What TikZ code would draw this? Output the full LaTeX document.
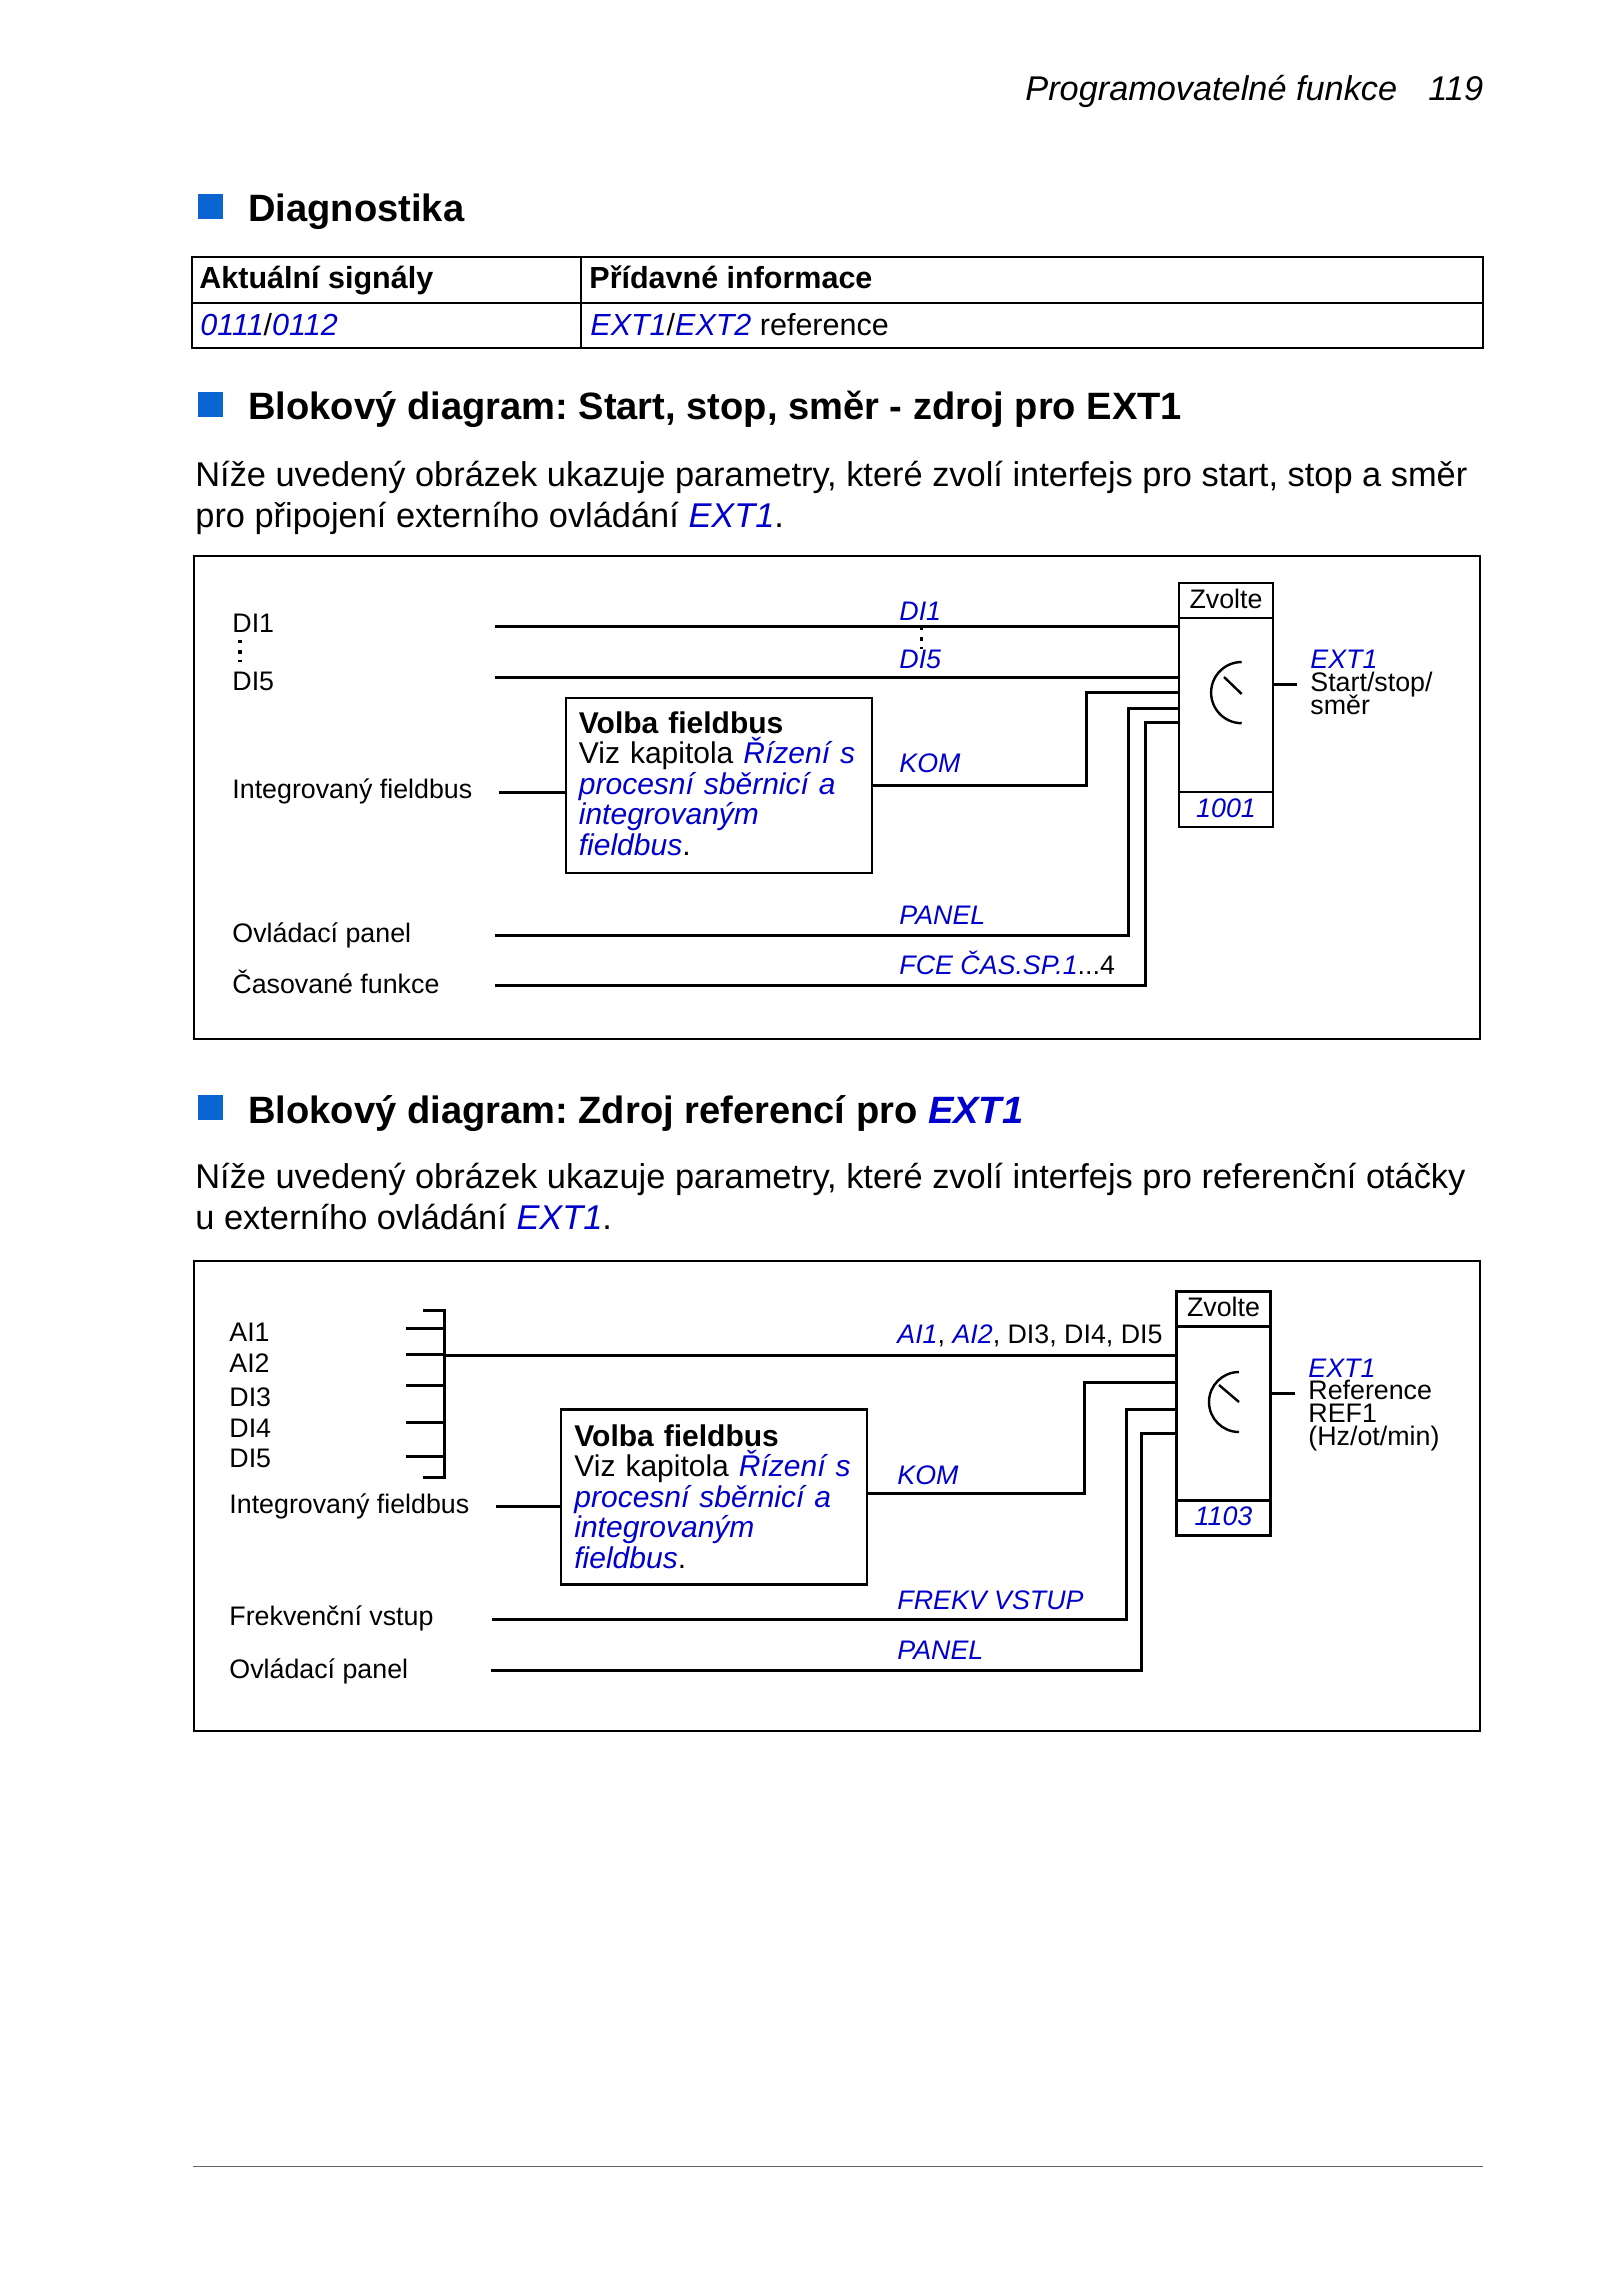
\documentclass[tikz,border=0pt]{standalone}
\usepackage{fontspec}
\setmainfont{Liberation Sans}
\usetikzlibrary{positioning}
\definecolor{linkblue}{HTML}{0000CC}
\definecolor{markblue}{HTML}{0A64D2}
\newcommand{\lnk}[1]{\textcolor{linkblue}{\textit{#1}}}
\frenchspacing
\tikzset{
	point/.style     = {coordinate},
	pagetext/.style  = {anchor=base west, inner sep=0pt, font=\fontsize{17.19}{20}\selectfont},
	headtext/.style  = {anchor=base west, inner sep=0pt, font=\fontsize{19.05}{22}\selectfont\bfseries},
	celltext/.style  = {anchor=base west, inner sep=0pt, font=\fontsize{15.25}{18}\selectfont},
	sigtext/.style   = {anchor=base west, inner sep=0pt, font=\fontsize{13.4}{16}\selectfont},
	linktext/.style  = {sigtext, text=linkblue, font=\fontsize{13.4}{16}\selectfont\itshape},
	marker/.style    = {rectangle, fill=markblue, inner sep=0pt, minimum width=12.5pt, minimum height=12.5pt},
	selecttop/.style = {draw, rectangle, line width=1.4pt, inner sep=0pt, outer sep=0pt, minimum width=47pt, minimum height=17.5pt, text height=9.5pt, text depth=2pt, font=\fontsize{13.4}{16}\selectfont},
	selectmid/.style = {draw, rectangle, line width=1.4pt, inner sep=0pt, outer sep=0pt, minimum width=47pt, minimum height=87pt},
	fieldbox/.style  = {draw, rectangle, line width=1.4pt, inner sep=0pt, outer sep=0pt, minimum width=153pt, minimum height=87.5pt},
	fieldtext/.style = {anchor=north west, inner sep=0pt, text width=150pt, align=left, font=\fontsize{15}{15.25}\selectfont},
	panel/.style     = {draw, line width=1.1pt},
	rule/.style      = {draw, line width=1.3pt},
	wire/.style      = {draw, line width=1.5pt},
	dial/.style      = {draw, line width=1.2pt},
	dots/.style      = {draw, line width=1.7pt, dash pattern=on 1.7pt off 3.4pt}
}
\begin{document}
\begin{tikzpicture}[x=0.5pt, y=-0.5pt]
	\path [use as bounding box, fill=white] (0,0) rectangle (1600,2275);

	\node (pagehead) [pagetext, font=\fontsize{17.15}{20}\selectfont\itshape] at (1025,100) {Programovatelné funkce};
	\node (pagenum)  [pagetext, font=\fontsize{17.15}{20}\selectfont\itshape] at (1428,100) {119};

	\node (markDiag) [marker] at (210.5,206.5) {};
	\node (headDiag) [headtext] at (248,221) {Diagnostika};

	\draw [rule] (192,257) rectangle (1483,348);
	\draw [rule] (192,303) -- (1483,303);
	\draw [rule] (581,257) -- (581,348);
	\node (cellAA) [celltext, font=\fontsize{15.25}{18}\selectfont\bfseries] at (199,288) {Aktuální signály};
	\node (cellAB) [celltext, font=\fontsize{15.25}{18}\selectfont\bfseries] at (589,288) {Přídavné informace};
	\node (cellBA) [celltext] at (200,335) {\lnk{0111}/\lnk{0112}};
	\node (cellBB) [celltext] at (590,335) {\lnk{EXT1}/\lnk{EXT2} reference};

	\node (markA) [marker] at (210.5,404.5) {};
	\node (headA) [headtext] at (248,419) {Blokový diagram: Start, stop, směr - zdroj pro EXT1};
	\node (paraAa) [pagetext] at (195,486) {Níže uvedený obrázek ukazuje parametry, které zvolí interfejs pro start, stop a směr};
	\node (paraAb) [pagetext] at (195,527) {pro připojení externího ovládání \lnk{EXT1}.};

	\draw [panel] (194,556) rectangle (1480,1039);

	\node (selAtop) [selecttop] at (1226,600.5) {Zvolte};
	\node (selAmid) [selectmid, below=0pt of selAtop] {};
	\node (selAbot) [selecttop, below=0pt of selAmid] {\lnk{1001}};
	\node (fbA) [fieldbox] at (719,785.5) {};
	\node (fbAtext) [fieldtext] at (578.5,711) {\textbf{Volba fieldbus}\\Viz kapitola \lnk{Řízení s}\\\lnk{procesní sběrnicí a}\\\lnk{integrovaným}\\\lnk{fieldbus}.};

	\node (sigAa) [sigtext] at (232,632) {DI1};
	\node (sigAb) [sigtext] at (232,690) {DI5};
	\node (sigAc) [sigtext] at (232,798) {Integrovaný fieldbus};
	\node (sigAd) [sigtext] at (232,942) {Ovládací panel};
	\node (sigAe) [sigtext] at (232,993) {Časované funkce};
	\node (lnkAa) [linktext] at (899,620) {DI1};
	\node (lnkAb) [linktext] at (899,668) {DI5};
	\node (lnkAc) [linktext] at (899,772) {KOM};
	\node (lnkAd) [linktext] at (899,924) {PANEL};
	\node (lnkAe) [sigtext] at (899,974) {\lnk{FCE ČAS.SP.1}...4};
	\node (outAa) [linktext] at (1310,668) {EXT1};
	\node (outAb) [sigtext] at (1310,691) {Start/stop/};
	\node (outAc) [sigtext] at (1310,714) {směr};

	\node (inAa) [point] at (495,626) {};
	\node (inAb) [point] at (495,677) {};
	\node (inAc) [point] at (499,792) {};
	\node (inAd) [point] at (495,935) {};
	\node (inAe) [point] at (495,985) {};
	\node (kinkAc) [point] at (1086,692) {};
	\node (kinkAd) [point] at (1128.5,708) {};
	\node (kinkAe) [point] at (1145,722) {};
	\node (outA) [point] at (1297,684) {};
	\node (dotsAa) [point] at (240,640) {};
	\node (dotsAb) [point] at (240,662) {};
	\node (dotsAc) [point] at (921.5,627) {};
	\node (dotsAd) [point] at (921.5,649) {};
	\node (dialA) [point] at (1241.7,662) {};
	\node (needleAa) [point] at (1224,677) {};
	\node (needleAb) [point] at (1241.7,694) {};

	\draw [wire] (inAa) -- (inAa -| selAmid.west);
	\draw [wire] (inAb) -- (inAb -| selAmid.west);
	\draw [wire] (inAc) -- (inAc -| fbA.west);
	\draw [wire] (fbA.east) -| (kinkAc) -- (kinkAc -| selAmid.west);
	\draw [wire] (inAd) -| (kinkAd) -- (kinkAd -| selAmid.west);
	\draw [wire] (inAe) -| (kinkAe) -- (kinkAe -| selAmid.west);
	\draw [wire] (outA -| selAmid.east) -- (outA);
	\draw [dots] (dotsAa) -- (dotsAb);
	\draw [dots] (dotsAc) -- (dotsAd);
	\draw [dial] (dialA) arc [start angle=90, end angle=270, radius=15.3pt];
	\draw [dial] (needleAa) -- (needleAb);

	\node (markB) [marker] at (210.5,1107.5) {};
	\node (headB) [headtext] at (248,1123) {Blokový diagram: Zdroj referencí pro \textcolor{linkblue}{\textit{EXT1}}};
	\node (paraBa) [pagetext] at (195,1188) {Níže uvedený obrázek ukazuje parametry, které zvolí interfejs pro referenční otáčky};
	\node (paraBb) [pagetext] at (195,1229) {u externího ovládání \lnk{EXT1}.};

	\draw [panel] (194,1261) rectangle (1480,1731);

	\node (selBtop) [selecttop] at (1223.5,1309) {Zvolte};
	\node (selBmid) [selectmid, below=0pt of selBtop] {};
	\node (selBbot) [selecttop, below=0pt of selBmid] {\lnk{1103}};
	\node (fbB) [fieldbox] at (714,1497) {};
	\node (fbBtext) [fieldtext] at (574,1424) {\textbf{Volba fieldbus}\\Viz kapitola \lnk{Řízení s}\\\lnk{procesní sběrnicí a}\\\lnk{integrovaným}\\\lnk{fieldbus}.};

	\node (sigBa) [sigtext] at (229,1341) {AI1};
	\node (sigBb) [sigtext] at (229,1372) {AI2};
	\node (sigBc) [sigtext] at (229,1406) {DI3};
	\node (sigBd) [sigtext] at (229,1437) {DI4};
	\node (sigBe) [sigtext] at (229,1467) {DI5};
	\node (sigBf) [sigtext] at (229,1513) {Integrovaný fieldbus};
	\node (sigBg) [sigtext] at (229,1625) {Frekvenční vstup};
	\node (sigBh) [sigtext] at (229,1678) {Ovládací panel};
	\node (lnkBa) [sigtext] at (897,1343) {\lnk{AI1}, \lnk{AI2}, DI3, DI4, DI5};
	\node (lnkBb) [linktext] at (897,1484) {KOM};
	\node (lnkBc) [linktext] at (897,1609) {FREKV VSTUP};
	\node (lnkBd) [linktext] at (897,1659) {PANEL};
	\node (outBa) [linktext] at (1308,1377) {EXT1};
	\node (outBb) [sigtext] at (1308,1399) {Reference};
	\node (outBc) [sigtext] at (1308,1422) {REF1};
	\node (outBd) [sigtext] at (1308,1445) {(Hz/ot/min)};

	\node (busBtop) [point] at (444,1310) {};
	\node (busBend) [point] at (444,1477) {};
	\node (stubBa) [point] at (423,1310) {};
	\node (stubBb) [point] at (406,1328) {};
	\node (stubBc) [point] at (406,1354) {};
	\node (stubBd) [point] at (406,1385) {};
	\node (stubBe) [point] at (406,1422) {};
	\node (stubBf) [point] at (406,1456) {};
	\node (stubBg) [point] at (423,1477) {};
	\node (inBa) [point] at (444,1355) {};
	\node (inBb) [point] at (496,1506) {};
	\node (inBc) [point] at (492,1619) {};
	\node (inBd) [point] at (491,1670) {};
	\node (kinkBa) [point] at (1084,1493) {};
	\node (kinkBb) [point] at (1084,1382) {};
	\node (kinkBc) [point] at (1126,1409) {};
	\node (kinkBd) [point] at (1141,1433) {};
	\node (outB) [point] at (1295,1393) {};
	\node (dialB) [point] at (1239,1372) {};
	\node (needleBa) [point] at (1219,1385) {};
	\node (needleBb) [point] at (1239,1402) {};

	\draw [wire] (stubBa) -- (busBtop) -- (busBend) -- (stubBg);
	\draw [wire] (stubBb) -- (stubBb -| busBtop);
	\draw [wire] (stubBc) -- (stubBc -| busBtop);
	\draw [wire] (stubBd) -- (stubBd -| busBtop);
	\draw [wire] (stubBe) -- (stubBe -| busBtop);
	\draw [wire] (stubBf) -- (stubBf -| busBtop);
	\draw [wire] (inBa) -- (inBa -| selBmid.west);
	\draw [wire] (inBb) -- (inBb -| fbB.west);
	\draw [wire] (kinkBa -| fbB.east) -- (kinkBa) -- (kinkBb) -- (kinkBb -| selBmid.west);
	\draw [wire] (inBc) -| (kinkBc) -- (kinkBc -| selBmid.west);
	\draw [wire] (inBd) -| (kinkBd) -- (kinkBd -| selBmid.west);
	\draw [wire] (outB -| selBmid.east) -- (outB);
	\draw [dial] (dialB) arc [start angle=90, end angle=270, radius=15pt];
	\draw [dial] (needleBa) -- (needleBb);

	\draw [draw=black!60, line width=0.4pt] (193,2166) -- (1483,2166);
\end{tikzpicture}
\end{document}
